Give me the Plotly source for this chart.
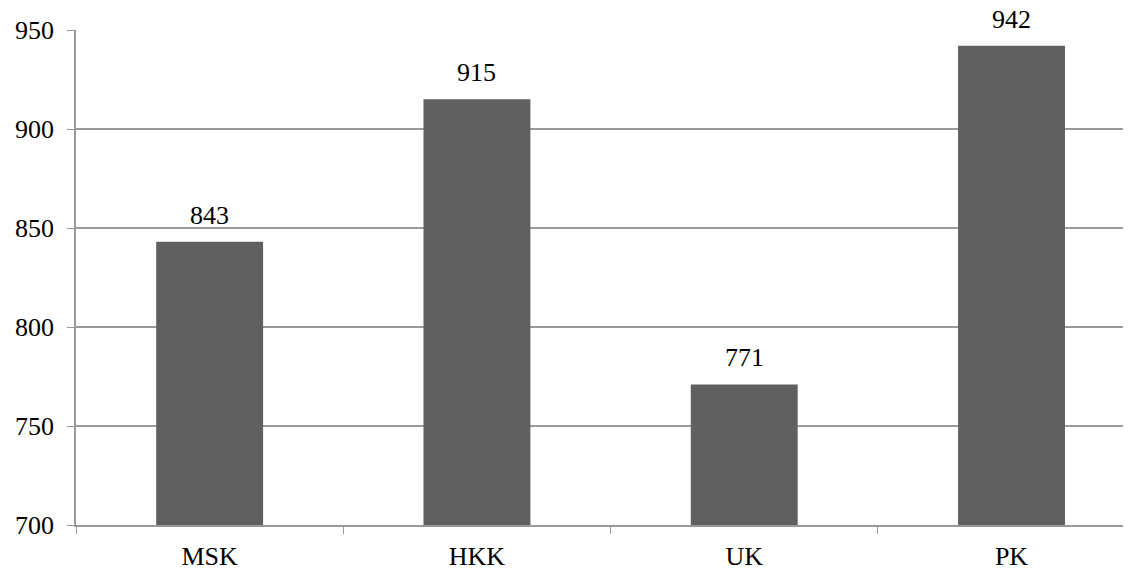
import plotly.graph_objects as go

categories = ["MSK", "HKK", "UK", "PK"]
values = [843, 915, 771, 942]
y_ticks = [700, 750, 800, 850, 900, 950]

font = dict(family="Liberation Serif, Times New Roman, serif", size=26, color="#000000")

fig = go.Figure(go.Bar(
    x=categories, y=values, width=0.4,
    marker=dict(color="#606060", line=dict(width=0)),
    cliponaxis=False,
))

for c, v in zip(categories, values):
    fig.add_annotation(x=c, y=v, text=str(v), showarrow=False,
                       yanchor="bottom", yshift=10, font=font)

fig.update_layout(
    width=1123, height=563,
    margin=dict(l=68, r=0, t=22, b=44),
    paper_bgcolor="white", plot_bgcolor="white",
    font=font, showlegend=False,
    xaxis=dict(
        type="category", range=[-0.5, 3.447],
        showgrid=False, showline=True, linecolor="#999999", linewidth=1.5,
        ticks="outside", tickson="boundaries", ticklen=7, tickcolor="#999999",
        ticklabelstandoff=7, tickfont=font,
    ),
    yaxis=dict(
        range=[700, 950], tickvals=y_ticks,
        showgrid=True, gridcolor="#9a9a9a", gridwidth=1.5,
        showline=True, linecolor="#999999", linewidth=1.5,
        ticks="outside", ticklen=7, tickcolor="#999999",
        ticklabelstandoff=8, tickfont=font, zeroline=False,
    ),
    bargap=0.6,
)

fig.write_html("out.html")
